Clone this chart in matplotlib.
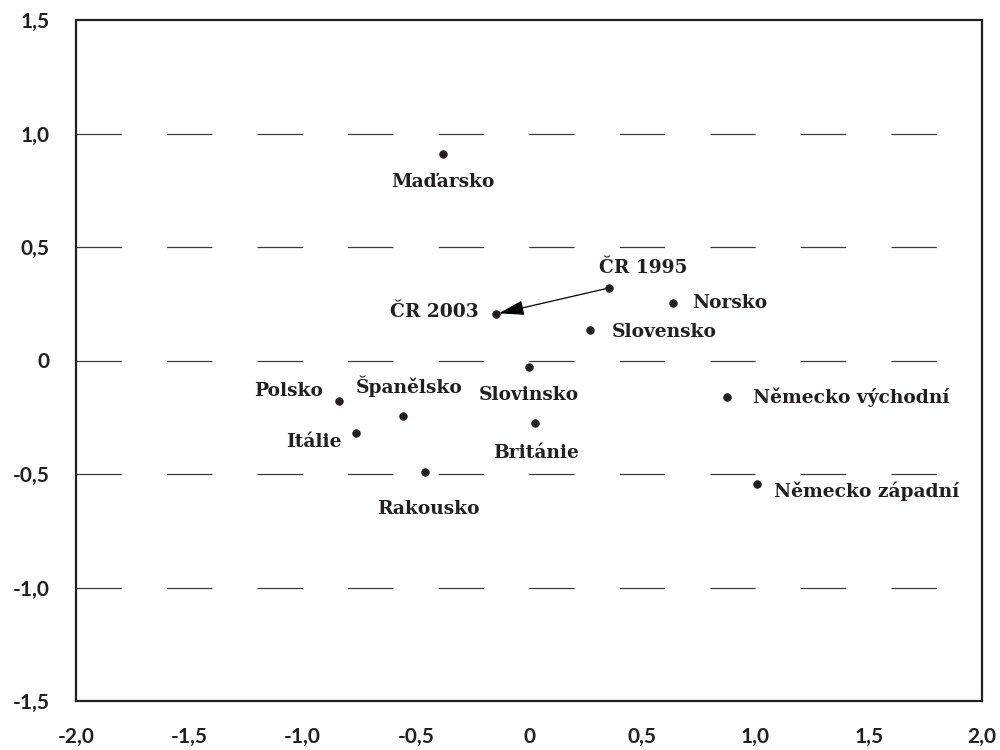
import matplotlib
matplotlib.use("Agg")
import matplotlib.pyplot as plt

countries = ["Maďarsko", "ČR 1995", "ČR 2003", "Norsko", "Slovensko", "Slovinsko",
             "Británie", "Polsko", "Španělsko", "Itálie", "Rakousko",
             "Německo východní", "Německo západní"]
x_vals = [-0.38, 0.355, -0.145, 0.635, 0.27, 0.0, 0.025, -0.84, -0.555, -0.765, -0.46, 0.875, 1.005]
y_vals = [0.91, 0.32, 0.205, 0.255, 0.135, -0.03, -0.275, -0.18, -0.245, -0.32, -0.49, -0.16, -0.545]

x_ticks = [-2.0, -1.5, -1.0, -0.5, 0.0, 0.5, 1.0, 1.5, 2.0]
y_ticks = [-1.5, -1.0, -0.5, 0.0, 0.5, 1.0, 1.5]
grid_levels = [-1.0, -0.5, 0.0, 0.5, 1.0]

def fmt(v):
    if v == 0:
        return "0"
    return f"{v:.1f}".replace(".", ",")

# label placement: (dx px, dy px, ha)
placement = {
    "Maďarsko": (0, -28, "center"),
    "ČR 1995": (34, 20, "center"),
    "ČR 2003": (-17, 2, "right"),
    "Norsko": (19, 0, "left"),
    "Slovensko": (22, -2, "left"),
    "Slovinsko": (0, -28, "center"),
    "Británie": (1, -30, "center"),
    "Polsko": (-16, 10, "right"),
    "Španělsko": (6, 30, "center"),
    "Itálie": (-14, -9, "right"),
    "Rakousko": (4, -37, "center"),
    "Německo východní": (26, 0, "left"),
    "Německo západní": (17, -7, "left"),
}

plt.rcParams['lines.scale_dashes'] = False
dark = "#231f20"

fig = plt.figure(figsize=(10, 7.5), dpi=100)
ax = fig.add_axes([0.076, 1 - 701 / 750, 0.906, (701 - 20) / 750])
ax.set_xlim(-2, 2)
ax.set_ylim(-1.5, 1.5)

for g in grid_levels:
    ax.axhline(g, color="#3a3a3a", lw=0.9, linestyle=(0, (32.6, 32.6)), zorder=1)

ax.scatter(x_vals, y_vals, s=26, color=dark, zorder=3)

serif = dict(family=["DejaVu Serif"], weight="bold", size=13.4, color=dark)
for name, xv, yv in zip(countries, x_vals, y_vals):
    dx, dy, ha = placement[name]
    ax.annotate(name, (xv, yv), xytext=(dx, dy), textcoords="offset pixels",
                ha=ha, va="center", zorder=4, **serif)

i1 = countries.index("ČR 1995")
i2 = countries.index("ČR 2003")
ax.annotate("", xy=(x_vals[i2], y_vals[i2]), xytext=(x_vals[i1], y_vals[i1]),
            arrowprops=dict(arrowstyle="-|>,head_length=1.3,head_width=0.38", color="black",
                            lw=0.9, shrinkA=3, shrinkB=2, mutation_scale=12), zorder=3)

ax.set_xticks(x_ticks)
ax.set_yticks(y_ticks)
ax.set_xticklabels([fmt(v) for v in x_ticks])
ax.set_yticklabels([fmt(v) for v in y_ticks])
ax.tick_params(length=0, labelsize=15, labelcolor=dark)
ax.tick_params(axis="y", pad=19)
ax.tick_params(axis="x", pad=19)
for lab in ax.get_xticklabels() + ax.get_yticklabels():
    lab.set_family(["Lato", "DejaVu Sans"])
    lab.set_weight("bold")

for sp in ax.spines.values():
    sp.set_linewidth(1.6)
    sp.set_color(dark)

fig.savefig("out.png", dpi=100)
